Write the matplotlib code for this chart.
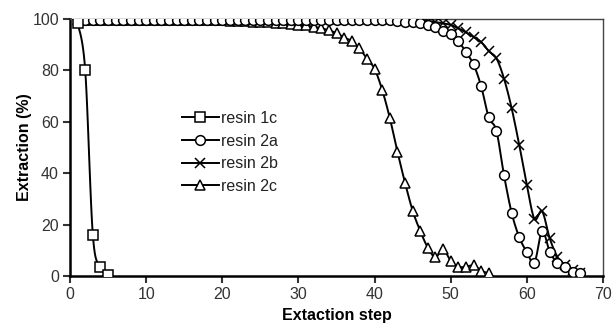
import matplotlib
matplotlib.use("Agg")
import matplotlib.pyplot as plt
from matplotlib.lines import Line2D
import numpy as np

plt.rcParams['font.family'] = ['Liberation Sans', 'DejaVu Sans']

# ---- data ----
x_1c = [1, 2, 3, 4, 5]
y_1c = [98.5, 80, 16, 3.5, 0.5]

x_2a = list(range(1, 68))
y_2a = ([99.8] * 40 +
        [99.6, 99.5, 99.3, 99.0, 98.8, 98.4, 97.8, 96.8, 95.5, 94.0,
         91.3, 87.2, 82.3, 73.8, 61.7, 56.5, 39.2, 24.6, 15.1, 9.3,
         5.2, 17.5, 9.5, 5.0, 3.5, 1.5, 1.0])

x_2b = list(range(1, 68))
y_2b = ([100.0] * 45 +
        [99.5, 99.2, 98.8, 98.3, 97.7, 96.4, 94.8, 93.0, 91.0, 87.5,
         84.7, 76.8, 65.3, 51.0, 35.4, 22.2, 25.2, 14.7, 7.5, 4.3,
         2.3, 1.0])

x_2c = list(range(1, 56))
y_2c = ([99.5] * 20 +
        [99.3, 99.2, 99.1, 99.0, 98.9, 98.7, 98.5, 98.3, 98.1, 97.8,
         97.5, 97.0, 96.4, 95.6, 94.5, 92.8, 91.4, 88.6, 84.5, 80.6,
         72.4, 61.5, 48.4, 36.3, 25.4, 17.5, 11.0, 7.3, 10.5, 5.8,
         3.6, 3.6, 4.2, 2.1, 1.0])

labels = ["resin 1c", "resin 2a", "resin 2b", "resin 2c"]
xticks = [0, 10, 20, 30, 40, 50, 60, 70]
yticks = [0, 20, 40, 60, 80, 100]


def smooth(xs, ys, n=12):
    """Bezier smoothing of the connecting line (like Excel smoothed lines)."""
    x = np.asarray(xs, float)
    y = np.asarray(ys, float)
    px = np.concatenate([[x[0]], x, [x[-1]]])
    py = np.concatenate([[y[0]], y, [y[-1]]])
    outx, outy = [], []
    t = np.linspace(0, 1, n, endpoint=False)
    for i in range(1, len(px) - 2):
        p0x, p1x, p2x, p3x = px[i - 1:i + 3]
        p0y, p1y, p2y, p3y = py[i - 1:i + 3]
        c1x = p1x + (p2x - p0x) / 6.0
        c1y = p1y + (p2y - p0y) / 6.0
        c2x = p2x - (p3x - p1x) / 6.0
        c2y = p2y - (p3y - p1y) / 6.0
        bx = ((1 - t) ** 3 * p1x + 3 * (1 - t) ** 2 * t * c1x
              + 3 * (1 - t) * t ** 2 * c2x + t ** 3 * p2x)
        by = ((1 - t) ** 3 * p1y + 3 * (1 - t) ** 2 * t * c1y
              + 3 * (1 - t) * t ** 2 * c2y + t ** 3 * p2y)
        outx.extend(bx)
        outy.extend(by)
    outx.append(x[-1])
    outy.append(y[-1])
    return np.array(outx), np.array(outy)


# ---- figure ----
fig = plt.figure(figsize=(6.15, 3.25), dpi=100)
ax = fig.add_axes([70 / 615, 1 - 276 / 325, 533 / 615, 257 / 325])

mk = dict(color='black', markerfacecolor='white',
          markeredgecolor='black', markeredgewidth=1.1, linestyle='none')
series = [
    (x_2c, y_2c, '^', 7, 3),
    (x_2b, y_2b, 'x', 7, 4),
    (x_2a, y_2a, 'o', 7, 5),
    (x_1c, y_1c, 's', 6.5, 6),
]
for xs, ys, m, ms, z in series:
    sx, sy = smooth(xs, ys)
    ax.plot(sx, sy, color='black', lw=1.4, zorder=z)
    ax.plot(xs, ys, marker=m, ms=ms, zorder=z + 0.5, **mk)

ax.set_xlim(0, 70)
ax.set_ylim(0, 100)
ax.set_xticks(xticks)
ax.set_yticks(yticks)
ax.tick_params(axis='both', direction='out', length=5, width=1.5,
               labelsize=11.5, colors='#333333', labelcolor='#333333')
ax.tick_params(axis='x', pad=3)
ax.tick_params(axis='y', pad=3)

for s in ['left', 'bottom']:
    ax.spines[s].set_linewidth(1.8)
    ax.spines[s].set_color('black')
for s in ['top', 'right']:
    ax.spines[s].set_linewidth(1.0)
    ax.spines[s].set_color('#444444')

ax.set_xlabel("Extaction step", fontsize=11.5, fontweight='bold', labelpad=4)
ax.set_ylabel("Extraction (%)", fontsize=11.5, fontweight='bold', labelpad=0)

handles = [
    Line2D([], [], color='black', lw=1.4, marker='s', ms=6.5,
           markerfacecolor='white', markeredgecolor='black', markeredgewidth=1.1),
    Line2D([], [], color='black', lw=1.4, marker='o', ms=7,
           markerfacecolor='white', markeredgecolor='black', markeredgewidth=1.1),
    Line2D([], [], color='black', lw=1.4, marker='x', ms=7,
           markerfacecolor='white', markeredgecolor='black', markeredgewidth=1.1),
    Line2D([], [], color='black', lw=1.4, marker='^', ms=7,
           markerfacecolor='white', markeredgecolor='black', markeredgewidth=1.1),
]
leg = ax.legend(handles, labels,
                loc='upper left', bbox_to_anchor=(182 / 615, 1 - 111 / 325),
                bbox_transform=fig.transFigure, frameon=False,
                borderpad=0, borderaxespad=0, handlelength=2.3,
                handletextpad=0.15, labelspacing=0.48, fontsize=11.5)
for t in leg.get_texts():
    t.set_color('#222222')

fig.savefig("out.png", dpi=100)
